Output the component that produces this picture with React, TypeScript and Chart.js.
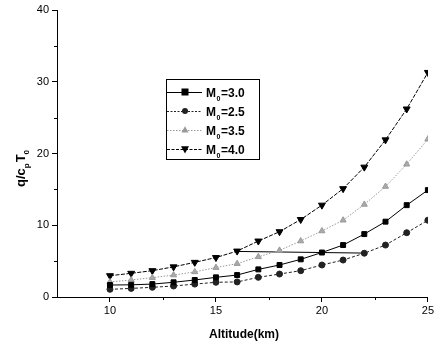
import React, { useEffect, useRef } from "react";
import { Chart, registerables } from "chart.js";
Chart.register(...registerables);

const altitudes = [10, 11, 12, 13, 14, 15, 16, 17, 18, 19, 20, 21, 22, 23, 24, 25];
const m30 = [1.67, 1.7, 1.8, 2.05, 2.37, 2.74, 3.06, 3.85, 4.46, 5.25, 6.2, 7.24, 8.77, 10.5, 12.8, 14.9];
const m25 = [1.07, 1.2, 1.35, 1.53, 1.8, 2.05, 2.1, 2.74, 3.2, 3.67, 4.46, 5.15, 6.1, 7.24, 8.96, 10.7];
const m35 = [2.1, 2.37, 2.7, 3.06, 3.5, 4.1, 4.65, 5.6, 6.5, 7.8, 9.2, 10.7, 12.9, 15.4, 18.5, 22.0];
const m40 = [2.97, 3.3, 3.67, 4.2, 4.83, 5.5, 6.4, 7.8, 9.1, 10.8, 12.8, 15.1, 18.1, 21.9, 26.2, 31.3];
const strayX = [16, 22];
const strayY = [6.35, 6.12];
const legendLabels = ["3.0", "2.5", "3.5", "4.0"];
const xTicks = [10, 15, 20, 25];
const yTicks = [0, 10, 20, 30, 40];

const pts = (ys: number[], xs: number[] = altitudes) => xs.map((x, i) => ({ x, y: ys[i] }));

function drawMarker(ctx: CanvasRenderingContext2D, style: string, x: number, y: number, r: number, color: string) {
  ctx.save();
  ctx.fillStyle = color;
  ctx.strokeStyle = color;
  ctx.beginPath();
  if (style === "rect") {
    ctx.rect(x - r, y - r, 2 * r, 2 * r);
  } else if (style === "circle") {
    ctx.arc(x, y, r, 0, Math.PI * 2);
  } else if (style === "triangle") {
    ctx.moveTo(x, y - r * 1.1);
    ctx.lineTo(x + r, y + r * 0.7);
    ctx.lineTo(x - r, y + r * 0.7);
    ctx.closePath();
  } else {
    ctx.moveTo(x, y + r * 1.1);
    ctx.lineTo(x + r, y - r * 0.7);
    ctx.lineTo(x - r, y - r * 0.7);
    ctx.closePath();
  }
  ctx.fill();
  ctx.restore();
}

const legendItems = [
  { dash: [] as number[], color: "#000", marker: "rect", r: 3.5 },
  { dash: [2, 1.5], color: "#222", marker: "circle", r: 3 },
  { dash: [1.5, 1.5], color: "#999", marker: "triangle", r: 3.5 },
  { dash: [3, 1.5], color: "#000", marker: "tri-down", r: 4 },
];

const decorPlugin = {
  id: "decor",
  afterDraw(chart: any) {
    const ctx: CanvasRenderingContext2D = chart.ctx;
    const area = chart.chartArea;
    const xs = chart.scales.x;
    const ys = chart.scales.y;
    ctx.save();
    // minor ticks
    ctx.strokeStyle = "#000";
    ctx.lineWidth = 1;
    [5, 15, 25, 35].forEach((v) => {
      const py = Math.round(ys.getPixelForValue(v)) + 0.5;
      ctx.beginPath();
      ctx.moveTo(area.left - 3, py);
      ctx.lineTo(area.left, py);
      ctx.stroke();
    });
    [12.5, 17.5, 22.5].forEach((v) => {
      const px = Math.round(xs.getPixelForValue(v)) + 0.5;
      ctx.beginPath();
      ctx.moveTo(px, area.bottom);
      ctx.lineTo(px, area.bottom + 3);
      ctx.stroke();
    });
    // legend
    const bx = 166, by = 79, bw = 93, bh = 80;
    ctx.strokeStyle = "#000";
    ctx.lineWidth = 1;
    ctx.strokeRect(bx + 0.5, by + 0.5, bw, bh);
    legendItems.forEach((it, i) => {
      const yy = by + 13 + i * 19;
      ctx.save();
      ctx.strokeStyle = it.color;
      ctx.setLineDash(it.dash);
      ctx.beginPath();
      ctx.moveTo(bx + 1, yy + 0.5);
      ctx.lineTo(bx + 36, yy + 0.5);
      ctx.stroke();
      ctx.restore();
      drawMarker(ctx, it.marker, bx + 19, yy, it.r, it.color);
      ctx.fillStyle = "#000";
      ctx.textBaseline = "alphabetic";
      ctx.font = "bold 12px 'Liberation Sans', Arial, sans-serif";
      ctx.fillText("M", bx + 40, yy + 5);
      const mw = ctx.measureText("M").width;
      ctx.font = "bold 7px 'Liberation Sans', Arial, sans-serif";
      ctx.fillText("0", bx + 40 + mw + 0.5, yy + 9);
      ctx.font = "bold 12px 'Liberation Sans', Arial, sans-serif";
      ctx.fillText("=" + legendLabels[i], bx + 40 + mw + 5, yy + 5);
    });
    // x title
    ctx.fillStyle = "#000";
    ctx.font = "bold 12px 'Liberation Sans', Arial, sans-serif";
    ctx.textAlign = "center";
    ctx.fillText("Altitude(km)", 244, 338);
    // y title
    ctx.translate(25, 168);
    ctx.rotate(-Math.PI / 2);
    ctx.textAlign = "left";
    const big = "bold 13px 'Liberation Sans', Arial, sans-serif";
    const small = "bold 8px 'Liberation Sans', Arial, sans-serif";
    let cx = -19;
    const seg = (t: string, f: string, dy: number) => {
      ctx.font = f;
      ctx.fillText(t, cx, dy);
      cx += ctx.measureText(t).width;
    };
    seg("q/c", big, 0);
    seg("p", small, 4);
    cx += 1;
    seg("T", big, 0);
    seg("0", small, 4);
    ctx.restore();
  },
};

export default function App() {
  const ref = useRef<HTMLCanvasElement>(null);
  useEffect(() => {
    document.body.style.margin = "0";
    const canvas = ref.current!;
    const font = { family: "'Liberation Sans', Arial, sans-serif", size: 11 };
    const chart = new Chart(canvas, {
      type: "line",
      data: {
        datasets: [
          {
            label: "M0=3.0",
            data: pts(m30),
            borderColor: "#000",
            backgroundColor: "#000",
            borderWidth: 1,
            pointStyle: "rect",
            pointRadius: 3.5,
          },
          {
            label: "M0=2.5",
            data: pts(m25),
            borderColor: "#222",
            backgroundColor: "#222",
            borderWidth: 1,
            borderDash: [3, 2],
            pointStyle: "circle",
            pointRadius: 3,
          },
          {
            label: "M0=3.5",
            data: pts(m35),
            borderColor: "#999",
            backgroundColor: "#aaa",
            borderWidth: 1,
            borderDash: [1.5, 1.5],
            pointStyle: "triangle",
            pointRadius: 3.5,
          },
          {
            label: "M0=4.0",
            data: pts(m40),
            borderColor: "#000",
            backgroundColor: "#000",
            borderWidth: 1,
            borderDash: [4, 1.5],
            pointStyle: "triangle",
            rotation: 180,
            pointRadius: 4,
          },
          {
            label: "stray",
            data: pts(strayY, strayX),
            borderColor: "#000",
            borderWidth: 1,
            pointRadius: 0,
          },
        ] as any,
      },
      options: {
        animation: false,
        responsive: false,
        layout: { autoPadding: false, padding: { top: 10, right: 3, left: 0, bottom: 0 } } as any,
        plugins: { legend: { display: false }, tooltip: { enabled: false } },
        scales: {
          x: {
            type: "linear",
            min: 7.5,
            max: 25,
            afterBuildTicks: (s: any) => { s.ticks = xTicks.map((v) => ({ value: v })); },
            afterFit: (s: any) => { s.height = 44; },
            grid: { drawOnChartArea: false, drawTicks: true, tickLength: 5, color: "#000" },
            border: { display: true, color: "#000", width: 1 },
            ticks: { color: "#000", font, padding: 2, maxRotation: 0 },
          },
          y: {
            type: "linear",
            min: 0,
            max: 40,
            afterBuildTicks: (s: any) => { s.ticks = yTicks.map((v) => ({ value: v })); },
            afterFit: (s: any) => { s.width = 57; },
            grid: { drawOnChartArea: false, drawTicks: true, tickLength: 5, color: "#000" },
            border: { display: true, color: "#000", width: 1 },
            ticks: { color: "#000", font, padding: 3 },
          },
        },
      } as any,
      plugins: [decorPlugin],
    });
    return () => chart.destroy();
  }, []);
  return (
    <div style={{ position: "relative", width: 436, height: 341, overflow: "hidden" }}>
      <canvas ref={ref} width={436} height={341} style={{ display: "block" }} />
    </div>
  );
}
